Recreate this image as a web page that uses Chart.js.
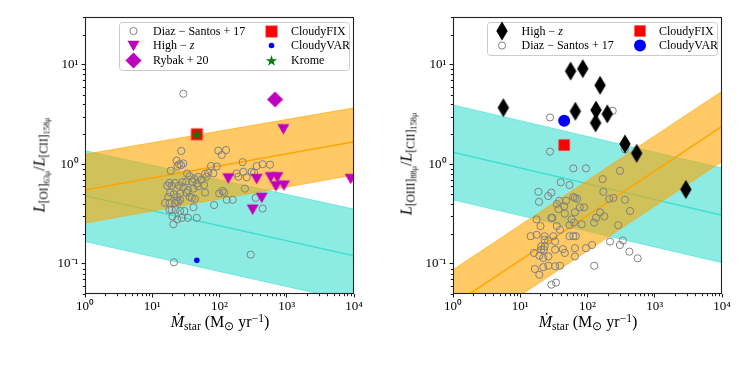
<!DOCTYPE html>
<html><head><meta charset="utf-8">
<script src="https://cdn.jsdelivr.net/npm/chart.js@4/dist/chart.umd.min.js"></script>
<style>
html,body{margin:0;padding:0;background:#fff;}
#wrap{position:relative;width:747px;height:370px;overflow:hidden;font-family:'Liberation Serif','Times New Roman',serif;color:#000;}
canvas.cv{position:absolute;top:0;}
.ytitle{position:absolute;white-space:nowrap;font-size:16px;transform:translate(-50%,-50%) rotate(-90deg);line-height:1;}
.xtitle{position:absolute;white-space:nowrap;font-size:16px;transform:translate(-50%,-50%);line-height:1;}
sub{font-size:0.72em;vertical-align:-0.3em;line-height:0;}
sup{font-size:0.72em;vertical-align:0.45em;line-height:0;}
</style></head>
<body>
<div id="wrap">
<canvas id="c1" class="cv" width="370" height="370" style="left:0"></canvas>
<canvas id="c2" class="cv" width="377" height="370" style="left:370px"></canvas>
<div class="ytitle" style="left:40px;top:165px"><i>L</i><sub>[OI]<sub>63μ</sub></sub>/<i>L</i><sub>[CII]<sub>158μ</sub></sub></div>
<div class="ytitle" style="left:407px;top:164px"><i>L</i><sub>[OIII]<sub>88μ</sub></sub>/<i>L</i><sub>[CII]<sub>158μ</sub></sub></div>
<div class="xtitle" style="left:220px;top:322px"><i>M&#775;</i><sub>star</sub> (M<sub>⊙</sub> yr<sup>−1</sup>)</div>
<div class="xtitle" style="left:588px;top:322px"><i>M&#775;</i><sub>star</sub> (M<sub>⊙</sub> yr<sup>−1</sup>)</div>
</div>
<script>
// ---------- axis ticks ----------
const xTickValues = [1, 10, 100, 1000, 10000];
const xTickLabels = ['10⁰', '10¹', '10²', '10³', '10⁴'];
const yTickValues = [0.1, 1, 10];
const yTickLabels = ['10⁻¹', '10⁰', '10¹'];
const bandSFR = [1, 10000];

// ---------- left panel: [OI]63 / [CII]158 ----------
const oiDiazSFR = [27,96,108,125,23,25,29,23.6,26.8,18.8,75,91,221,357,438,564,33,36,48,61,68,64,42,28,32,39,46,54,59,18,16.7,19.5,21.8,25,29,34,41,48,81,180,190,226,254,300,326,18.4,17.3,21,23.6,23,26,32,36,43,39,61,15.5,18,21.8,24.4,26,41,83,99,111,117,128,157,239,345,438,18,19.5,22.3,26,30,20,23.6,20.6,27.4,34,46,21,291,29];
const oiDiazRatio = [1.36,1.37,1.24,1.39,1.09,1.00,1.02,0.96,0.98,0.86,0.96,0.95,1.05,0.96,1.00,0.99,0.81,0.76,0.75,0.80,0.82,0.75,0.71,0.66,0.67,0.67,0.64,0.70,0.62,0.65,0.61,0.61,0.65,0.61,0.59,0.55,0.57,0.60,0.81,0.81,0.75,0.84,0.74,0.84,0.82,0.52,0.47,0.50,0.47,0.43,0.51,0.52,0.47,0.45,0.46,0.52,0.41,0.41,0.41,0.42,0.44,0.37,0.39,0.51,0.54,0.52,0.44,0.44,0.57,0.46,0.36,0.35,0.35,0.35,0.34,0.34,0.30,0.28,0.25,0.29,0.29,0.29,0.104,0.124,5.1];
const oiHighzSFR = [135,357,577,724,692,910,424,311,8930,889];
const oiHighzRatio = [0.72,0.71,0.74,0.74,0.60,0.61,0.46,0.35,0.71,2.24];
const oiRybakSFR = [669];
const oiRybakRatio = [4.47];
const oiCloudyFixSFR = [46];
const oiCloudyFixRatio = [2.0];
const oiCloudyVarSFR = [46];
const oiCloudyVarRatio = [0.109];
const oiKromeSFR = [46];
const oiKromeRatio = [2.0];
const oiOrangeMid = [0.553, 1.68];
const oiOrangeHi = [1.26, 3.68];
const oiOrangeLo = [0.257, 0.78];
const oiCyanMid = [0.485, 0.121];
const oiCyanHi = [1.37, 0.355];
const oiCyanLo = [0.168, 0.042];

// ---------- right panel: [OIII]88 / [CII]158 ----------
const oiiiHighzSFR = [5.6,56,85,154,66,134,197,132,361,538,2900];
const oiiiHighzRatio = [3.7,8.6,9.1,6.2,3.4,3.5,3.2,2.6,1.6,1.29,0.56];
const oiiiDiazSFR = [27.7,237,27.7,361,61.5,95,304,40,54,168,18.6,29,26,19,61.5,70,65,172,38,48,35,37,45,46,77,89,211,242,361,429,65,154,178,134,17.5,29,30,58,63,82,125,287,20,35,39,54,14.3,17.5,23,31,54,61.5,67,23,26,33,20.5,22.5,20.5,23,16,19.2,22,26.2,33,43,46,65,65,95,117,216,336,304,419,557,16.5,19.2,22,26.2,33,39,126,29,34];
const oiiiDiazRatio = [2.95,3.44,1.34,1.41,0.91,0.91,0.86,0.66,0.62,0.71,0.53,0.52,0.48,0.42,0.47,0.45,0.46,0.53,0.43,0.43,0.40,0.355,0.38,0.32,0.37,0.37,0.45,0.46,0.44,0.34,0.33,0.33,0.30,0.29,0.28,0.29,0.29,0.28,0.26,0.25,0.26,0.245,0.24,0.24,0.22,0.245,0.19,0.196,0.19,0.19,0.19,0.19,0.19,0.175,0.172,0.168,0.15,0.139,0.139,0.15,0.129,0.121,0.115,0.119,0.139,0.141,0.129,0.144,0.119,0.144,0.155,0.168,0.172,0.155,0.133,0.114,0.089,0.078,0.093,0.096,0.095,0.096,0.096,0.062,0.065];
const oiiiCloudyFixSFR = [45];
const oiiiCloudyFixRatio = [1.56];
const oiiiCloudyVarSFR = [45];
const oiiiCloudyVarRatio = [2.73];
const oiiiOrangeMid = [0.0389, 2.40];
const oiiiOrangeHi = [0.0877, 5.41];
const oiiiOrangeLo = [0.01726, 1.064];
const oiiiCyanMid = [1.32, 0.308];
const oiiiCyanHi = [3.94, 0.918];
const oiiiCyanLo = [0.44, 0.103];

// ---------- styling helpers ----------
const FONT = "'Liberation Serif','Times New Roman',serif";
const GREY = '#808080', MAG = '#bf00bf';
const ORANGE = '#ffa500', ORANGE_F = 'rgba(255,165,0,0.6)';
const TURQ = '#40e0d0', TURQ_F = 'rgba(64,224,208,0.6)';

function pts(xs, ys) { return xs.map((x, i) => ({x: x, y: ys[i]})); }

function markerCanvas(w, h, draw) {
  const c = document.createElement('canvas');
  c.width = Math.ceil(w) + 2; c.height = Math.ceil(h) + 2;
  const g = c.getContext('2d');
  g.translate(c.width / 2, c.height / 2);
  draw(g);
  return c;
}
function poly(g, p, fill, stroke, lw) {
  g.beginPath(); g.moveTo(p[0][0], p[0][1]);
  for (let i = 1; i < p.length; i++) g.lineTo(p[i][0], p[i][1]);
  g.closePath(); g.fillStyle = fill; g.fill();
  if (stroke) { g.strokeStyle = stroke; g.lineWidth = lw; g.stroke(); }
}
const triDown = markerCanvas(13, 12, g => poly(g, [[-6,-5.3],[6,-5.3],[0,5.3]], MAG));
const magDiamond = markerCanvas(17, 17, g => poly(g, [[0,-8],[8,0],[0,8],[-8,0]], MAG));
const thinDiamond = markerCanvas(12, 20, g => poly(g, [[0,-9.5],[5.7,0],[0,9.5],[-5.7,0]], '#000'));
const redSquareL = markerCanvas(13, 13, g => { g.fillStyle = 'rgba(255,90,90,0.9)'; g.fillRect(-6.2,-6.2,12.4,12.4); g.fillStyle = '#ff0000'; g.fillRect(-5.4,-5.4,10.8,10.8); });
const redSquareR = markerCanvas(12, 12, g => { g.fillStyle = '#ff0000'; g.fillRect(-5.6,-5.6,11.2,11.2); });
const greenStar = markerCanvas(13, 13, g => {
  const p = []; const R = 5.9, r = R * 0.382;
  for (let i = 0; i < 10; i++) { const a = -Math.PI / 2 + i * Math.PI / 5; const rr = i % 2 ? r : R; p.push([rr * Math.cos(a), rr * Math.sin(a) + 0.5]); }
  poly(g, p, '#008000');
});

function scatterDS(label, xs, ys, style, order) {
  return Object.assign({type: 'scatter', label: label, data: pts(xs, ys), order: order, pointHoverRadius: 0}, style);
}
const circleGrey = {pointStyle: 'circle', pointRadius: 3.6, borderColor: GREY, backgroundColor: 'rgba(0,0,0,0)', borderWidth: 1};

function bandDS(name, hi, mid, lo, line, fill, base) {
  return [
    {type: 'line', label: name + ' hi', data: pts(bandSFR, hi), borderColor: fill, borderWidth: 1, backgroundColor: fill, fill: '+1', pointRadius: 0, order: base + 2},
    {type: 'line', label: name + ' lo', data: pts(bandSFR, lo), borderColor: fill, borderWidth: 1, fill: false, pointRadius: 0, order: base + 1},
    {type: 'line', label: name + ' fit', data: pts(bandSFR, mid), borderColor: line, borderWidth: 1.5, fill: false, pointRadius: 0, order: base}
  ];
}

// ---------- plugins ----------
const frameTicks = {
  id: 'frameTicks',
  afterDraw(chart) {
    const {ctx, chartArea: a, scales} = chart;
    const x = scales.x, y = scales.y;
    ctx.save();
    ctx.strokeStyle = '#000'; ctx.lineWidth = 0.9;
    ctx.beginPath();
    for (let d = Math.floor(Math.log10(x.min)); d <= Math.ceil(Math.log10(x.max)); d++) {
      for (let k = 2; k <= 9; k++) {
        const v = k * Math.pow(10, d);
        if (v < x.min || v > x.max) continue;
        const p = Math.round(x.getPixelForValue(v)) + 0.5;
        ctx.moveTo(p, a.bottom); ctx.lineTo(p, a.bottom + 2.2);
      }
    }
    for (let d = Math.floor(Math.log10(y.min)); d <= Math.ceil(Math.log10(y.max)); d++) {
      for (let k = 2; k <= 9; k++) {
        const v = k * Math.pow(10, d);
        if (v < y.min || v > y.max) continue;
        const p = Math.round(y.getPixelForValue(v)) + 0.5;
        ctx.moveTo(a.left, p); ctx.lineTo(a.left - 2.2, p);
      }
    }
    ctx.stroke();
    ctx.strokeStyle = '#222'; ctx.lineWidth = 1.1;
    ctx.strokeRect(Math.round(a.left) + 0.5, Math.round(a.top) + 0.5, Math.round(a.width) - 1, Math.round(a.height) - 1);
    ctx.restore();
  }
};

function drawMarker(ctx, m, cx, cy) {
  if (m.img) { ctx.drawImage(m.img, Math.round(cx - m.img.width / 2), Math.round(cy - m.img.height / 2)); return; }
  ctx.beginPath(); ctx.arc(cx, cy, m.r, 0, Math.PI * 2);
  if (m.fill) { ctx.fillStyle = m.fill; ctx.fill(); }
  if (m.stroke) { ctx.strokeStyle = m.stroke; ctx.lineWidth = 1; ctx.stroke(); }
}
const mplLegend = {
  id: 'mplLegend',
  afterDraw(chart, args, o) {
    if (!o || !o.entries) return;
    const {ctx, chartArea: a} = chart;
    const x0 = Math.round(a.right - 5 - o.width), y0 = Math.round(a.top + 5);
    ctx.save();
    ctx.beginPath();
    if (ctx.roundRect) ctx.roundRect(x0 + 0.5, y0 + 0.5, o.width, o.height, 3); else ctx.rect(x0 + 0.5, y0 + 0.5, o.width, o.height);
    ctx.fillStyle = 'rgba(255,255,255,0.8)'; ctx.fill();
    ctx.strokeStyle = '#cccccc'; ctx.lineWidth = 1; ctx.stroke();
    ctx.textBaseline = 'middle'; ctx.fillStyle = '#000';
    o.entries.forEach(e => {
      const cy = y0 + o.rowY[e.row];
      drawMarker(ctx, e.marker, x0 + o.colMarker[e.col], cy);
      let tx = x0 + o.colText[e.col];
      e.text.forEach(part => {
        ctx.font = (part[1] ? 'italic ' : '') + '12px ' + FONT;
        ctx.fillStyle = '#000';
        ctx.fillText(part[0], tx, cy + 0.5);
        tx += ctx.measureText(part[0]).width;
      });
    });
    ctx.restore();
  }
};

function makeOptions(yWidth, padRight, legend) {
  const tickFont = {family: FONT, size: 13};
  return {
    responsive: false, animation: false, events: [],
    layout: {padding: {top: 17, right: padRight, left: 0, bottom: 0}},
    scales: {
      x: {
        type: 'logarithmic', min: 1, max: 10000,
        afterFit: s => { s.height = 76; },
        afterBuildTicks: s => { s.ticks = xTickValues.map(v => ({value: v, major: true})); },
        ticks: {autoSkip: false, maxRotation: 0, padding: 1, color: '#000', font: tickFont,
          callback: (v) => { const i = xTickValues.indexOf(v); return i >= 0 ? xTickLabels[i] : ''; }},
        grid: {display: true, drawOnChartArea: false, drawTicks: true, tickLength: 3.5, tickColor: '#000', tickWidth: 0.9},
        border: {display: false}
      },
      y: {
        type: 'logarithmic', min: 0.05, max: 30,
        afterFit: s => { s.width = yWidth; },
        afterBuildTicks: s => { s.ticks = yTickValues.map(v => ({value: v, major: true})); },
        ticks: {autoSkip: false, padding: 3, color: '#000', font: tickFont,
          callback: (v) => { const i = yTickValues.indexOf(v); return i >= 0 ? yTickLabels[i] : ''; }},
        grid: {display: true, drawOnChartArea: false, drawTicks: true, tickLength: 3.5, tickColor: '#000', tickWidth: 0.9},
        border: {display: false}
      }
    },
    plugins: {legend: {display: false}, tooltip: {enabled: false}, mplLegend: legend}
  };
}

// ---------- left chart ----------
new Chart(document.getElementById('c1'), {
  type: 'scatter',
  data: {datasets: [
    scatterDS('Krome', oiKromeSFR, oiKromeRatio, {pointStyle: greenStar, pointRadius: 6}, 0),
    scatterDS('CloudyFIX', oiCloudyFixSFR, oiCloudyFixRatio, {pointStyle: redSquareL, pointRadius: 6}, 1),
    scatterDS('CloudyVAR', oiCloudyVarSFR, oiCloudyVarRatio, {pointStyle: 'circle', pointRadius: 2.8, backgroundColor: '#0000ff', borderColor: '#0000ff', borderWidth: 0}, 2),
    scatterDS('Rybak + 20', oiRybakSFR, oiRybakRatio, {pointStyle: magDiamond, pointRadius: 8}, 3),
    scatterDS('High − z', oiHighzSFR, oiHighzRatio, {pointStyle: triDown, pointRadius: 6}, 4),
    scatterDS('Diaz − Santos + 17', oiDiazSFR, oiDiazRatio, circleGrey, 10),
    ...bandDS('orange', oiOrangeHi, oiOrangeMid, oiOrangeLo, ORANGE, ORANGE_F, 20),
    ...bandDS('cyan', oiCyanHi, oiCyanMid, oiCyanLo, TURQ, TURQ_F, 30)
  ]},
  options: makeOptions(85, 16, {
    width: 230, height: 48,
    rowY: [9, 23.5, 38.5], colMarker: [14.5, 152.5], colText: [34, 172],
    entries: [
      {row: 0, col: 0, marker: {r: 3.6, stroke: GREY}, text: [['Diaz − Santos + 17', false]]},
      {row: 1, col: 0, marker: {img: triDown}, text: [['High − ', false], ['z', true]]},
      {row: 2, col: 0, marker: {img: magDiamond}, text: [['Rybak + 20', false]]},
      {row: 0, col: 1, marker: {img: redSquareL}, text: [['CloudyFIX', false]]},
      {row: 1, col: 1, marker: {r: 2.8, fill: '#0000ff'}, text: [['CloudyVAR', false]]},
      {row: 2, col: 1, marker: {img: greenStar}, text: [['Krome', false]]}
    ]
  }),
  plugins: [frameTicks, mplLegend]
});

// ---------- right chart ----------
new Chart(document.getElementById('c2'), {
  type: 'scatter',
  data: {datasets: [
    scatterDS('CloudyVAR', oiiiCloudyVarSFR, oiiiCloudyVarRatio, {pointStyle: 'circle', pointRadius: 6, backgroundColor: '#0000ff', borderColor: '#0000ff', borderWidth: 0}, 1),
    scatterDS('CloudyFIX', oiiiCloudyFixSFR, oiiiCloudyFixRatio, {pointStyle: redSquareR, pointRadius: 6}, 2),
    scatterDS('High − z', oiiiHighzSFR, oiiiHighzRatio, {pointStyle: thinDiamond, pointRadius: 8}, 3),
    scatterDS('Diaz − Santos + 17', oiiiDiazSFR, oiiiDiazRatio, circleGrey, 10),
    ...bandDS('orange', oiiiOrangeHi, oiiiOrangeMid, oiiiOrangeLo, ORANGE, ORANGE_F, 20),
    ...bandDS('cyan', oiiiCyanHi, oiiiCyanMid, oiiiCyanLo, TURQ, TURQ_F, 30)
  ]},
  options: makeOptions(83, 25, {
    width: 230, height: 33,
    rowY: [9, 23.5], colMarker: [15, 153], colText: [34.5, 172],
    entries: [
      {row: 0, col: 0, marker: {img: thinDiamond}, text: [['High − ', false], ['z', true]]},
      {row: 1, col: 0, marker: {r: 3.6, stroke: GREY}, text: [['Diaz − Santos + 17', false]]},
      {row: 0, col: 1, marker: {img: redSquareR}, text: [['CloudyFIX', false]]},
      {row: 1, col: 1, marker: {r: 6, fill: '#0000ff'}, text: [['CloudyVAR', false]]}
    ]
  }),
  plugins: [frameTicks, mplLegend]
});
</script>
</body></html>
